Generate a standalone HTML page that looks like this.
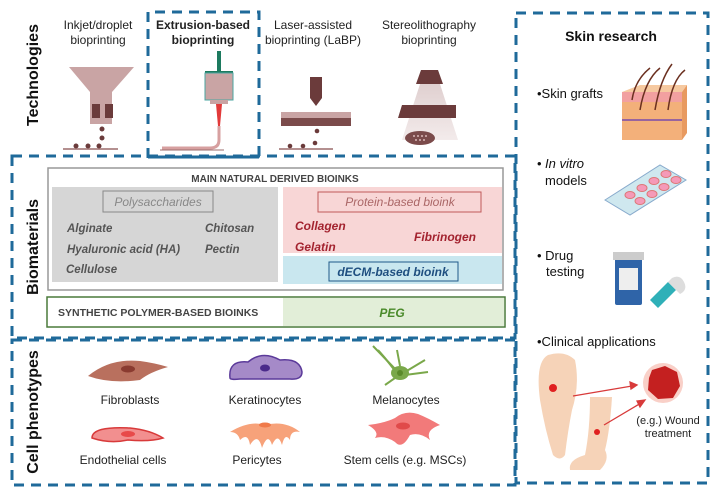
<!DOCTYPE html>
<html><head><meta charset="utf-8"><style>
body{margin:0;background:#fff;}
svg{display:block;font-family:"Liberation Sans",Arial,sans-serif;}
</style></head><body>
<svg width="717" height="493" viewBox="0 0 717 493" xmlns="http://www.w3.org/2000/svg">
<defs>
<linearGradient id="cone" x1="0" y1="0" x2="0" y2="1"><stop offset="0" stop-color="#d8c4c4"/><stop offset="1" stop-color="#f0e6e6"/></linearGradient>
</defs>
<!-- dashed boxes -->
<g fill="none" stroke="#1f6a9a" stroke-width="3" stroke-dasharray="10 7">
<path d="M148 158 V12 H259 V156"/>
<rect x="12" y="156" width="503" height="182"/>
<rect x="12" y="340" width="503" height="145"/>
<rect x="516" y="13" width="192" height="470"/>
</g>
<path d="M148 157 H259" stroke="#1f6a9a" stroke-width="3"/>
<!-- section titles -->
<g font-weight="bold" font-size="16" fill="#111">
<text transform="translate(38,75) rotate(-90)" text-anchor="middle">Technologies</text>
<text transform="translate(38,247) rotate(-90)" text-anchor="middle">Biomaterials</text>
<text transform="translate(38,412) rotate(-90)" text-anchor="middle">Cell phenotypes</text>
</g>
<!-- tech labels -->
<g font-size="12" fill="#222" text-anchor="middle">
<text x="98" y="29">Inkjet/droplet</text><text x="98" y="44">bioprinting</text>
<text x="203" y="29" font-weight="bold">Extrusion-based</text><text x="203" y="44" font-weight="bold">bioprinting</text>
<text x="313" y="29">Laser-assisted</text><text x="313" y="44">bioprinting (LaBP)</text>
<text x="429" y="29">Stereolithography</text><text x="429" y="44">bioprinting</text>
</g>
<!-- inkjet -->
<path d="M69 67 H134 L112 92 V124 H90 V92 Z" fill="#c9a4a4"/>
<rect x="92" y="104" width="8" height="14" fill="#6b3b3b"/><rect x="105" y="104" width="8" height="14" fill="#6b3b3b"/>
<g fill="#6b3b3b"><circle cx="102" cy="129" r="2.5"/><circle cx="102" cy="138" r="2.5"/><circle cx="99" cy="146" r="2.5"/><circle cx="76" cy="146" r="2.5"/><circle cx="88" cy="146" r="2.5"/></g>
<line x1="63" y1="149" x2="118" y2="149" stroke="#9b6b6b" stroke-width="1.5"/>
<!-- extrusion -->
<rect x="217" y="51" width="4" height="20" fill="#1d7a5f"/>
<path d="M205 72 H233" stroke="#1d7a5f" stroke-width="2"/>
<rect x="205" y="73" width="28" height="27" fill="#c9a4a4" stroke="#4aa6a0"/>
<rect x="210" y="100" width="18" height="4" fill="#c9a4a4"/>
<path d="M216 104 H222 L220 126 H218 Z" fill="#e23a3a"/>
<path d="M219 126 V140 Q219 148 210 148 H162" fill="none" stroke="#d7a0a0" stroke-width="3"/>
<line x1="160" y1="150" x2="224" y2="150" stroke="#9b6b6b" stroke-width="1"/>
<!-- laser -->
<path d="M310 77 H322 V98 L316 106 L310 98 Z" fill="#6b3b3b"/>
<rect x="281" y="112" width="70" height="6" fill="#c9a4a4"/><rect x="281" y="118" width="70" height="8" fill="#7b4b4b"/>
<g fill="#6b3b3b"><circle cx="317" cy="131" r="2.3"/><circle cx="315" cy="143" r="2.3"/><circle cx="290" cy="146" r="2.3"/><circle cx="303" cy="146" r="2.3"/></g>
<line x1="279" y1="149" x2="333" y2="149" stroke="#9b6b6b" stroke-width="1.5"/>
<!-- stereo -->
<path d="M420 84 H440 L458 140 H402 Z" fill="url(#cone)" opacity="0.8"/>
<path d="M421 70 H438 L443 84 H416 Z" fill="#6b3b3b"/>
<path d="M402 105 H456 V118 H398 Z" fill="#6b3b3b"/>
<ellipse cx="420" cy="138" rx="15" ry="7" fill="#7b4b4b"/>
<g fill="#d9b8b8"><circle cx="414" cy="136" r="1"/><circle cx="418" cy="136" r="1"/><circle cx="422" cy="136" r="1"/><circle cx="426" cy="136" r="1"/><circle cx="416" cy="140" r="1"/><circle cx="420" cy="140" r="1"/><circle cx="424" cy="140" r="1"/></g>
<!-- biomaterials -->
<rect x="48" y="168" width="455" height="122" fill="#fff" stroke="#999" stroke-width="1.5"/>
<text x="275" y="182" font-size="10" font-weight="bold" fill="#444" text-anchor="middle">MAIN NATURAL  DERIVED BIOINKS</text>
<rect x="52" y="187" width="226" height="95" fill="#d6d6d6"/>
<rect x="283" y="187" width="219" height="66" fill="#f8d6d6"/>
<rect x="283" y="256" width="219" height="28" fill="#c9e7ef"/>
<rect x="103" y="191" width="110" height="21" fill="none" stroke="#888"/>
<text x="158" y="206" font-size="12" font-style="italic" fill="#888" text-anchor="middle">Polysaccharides</text>
<g font-size="11.5" font-style="italic" font-weight="bold" fill="#555">
<text x="67" y="232">Alginate</text><text x="205" y="232">Chitosan</text>
<text x="67" y="253">Hyaluronic acid (HA)</text><text x="205" y="253">Pectin</text>
<text x="66" y="273">Cellulose</text>
</g>
<rect x="318" y="192" width="163" height="20" fill="none" stroke="#c05a5a"/>
<text x="400" y="206" font-size="12" font-style="italic" fill="#a66" text-anchor="middle">Protein-based bioink</text>
<g font-size="12" font-style="italic" font-weight="bold" fill="#a3232f">
<text x="295" y="230">Collagen</text><text x="295" y="251">Gelatin</text><text x="414" y="241">Fibrinogen</text>
</g>
<rect x="329" y="262" width="129" height="19" fill="none" stroke="#1f5a8a"/>
<text x="393" y="276" font-size="12" font-style="italic" font-weight="bold" fill="#1f4f80" text-anchor="middle">dECM-based bioink</text>
<rect x="47" y="297" width="458" height="30" fill="#fff" stroke="#4a7a3a" stroke-width="1.5"/>
<rect x="283" y="298" width="221" height="28" fill="#e2eed8"/>
<text x="58" y="316" font-size="10.5" font-weight="bold" fill="#444">SYNTHETIC POLYMER-BASED BIOINKS</text>
<text x="392" y="317" font-size="12" font-style="italic" font-weight="bold" fill="#4a8a2a" text-anchor="middle">PEG</text>
<!-- cells -->
<path d="M88 376 Q110 358 140 361 Q155 363 168 367 Q150 372 140 380 Q110 384 88 376 Z" fill="#b9705e"/>
<ellipse cx="128" cy="369" rx="7" ry="3.5" fill="#8a3b30"/>
<path d="M230 378 Q228 360 248 362 Q262 350 280 360 Q300 358 302 372 Q302 380 290 379 H240 Q230 380 230 378 Z" fill="#a58ac8" stroke="#5b3a9a" stroke-width="1.5"/>
<ellipse cx="265" cy="368" rx="5" ry="3.5" fill="#4a2a8a"/>
<g stroke="#7aa84a" stroke-width="2" fill="none"><path d="M398 372 L373 346"/><path d="M396 372 L385 358 L378 350"/><path d="M400 366 L397 350"/><path d="M405 372 L425 360"/><path d="M405 375 L428 372"/><path d="M395 378 L385 385"/></g>
<ellipse cx="400" cy="373" rx="9" ry="7" fill="#7aa84a"/><circle cx="400" cy="373" r="3" fill="#5a8a2a"/>
<path d="M92 438 Q92 426 130 428 Q150 430 163 438 Q150 442 128 440 Q110 444 92 438 Z" fill="#f28f8f" stroke="#d83a3a" stroke-width="1.5"/>
<ellipse cx="128" cy="434" rx="7" ry="3" fill="#e84a4a"/>
<path d="M230 432 Q250 420 265 425 Q285 420 300 432 Q290 430 290 440 Q285 432 282 445 Q278 432 272 445 Q268 432 262 448 Q258 432 250 445 Q248 432 240 440 Q238 432 230 432 Z" fill="#f7a27a"/>
<ellipse cx="265" cy="425" rx="6" ry="2.5" fill="#f07a4a"/>
<path d="M368 425 Q385 423 395 418 Q405 410 418 414 Q428 418 440 425 Q425 430 430 440 Q420 432 410 435 Q402 450 395 442 Q385 435 375 438 Q380 432 368 425 Z" fill="#f27a7a"/>
<ellipse cx="403" cy="426" rx="7" ry="3.5" fill="#e04a4a"/>
<g font-size="12" fill="#222" text-anchor="middle">
<text x="130" y="404">Fibroblasts</text><text x="265" y="404">Keratinocytes</text><text x="406" y="404">Melanocytes</text>
<text x="123" y="464">Endothelial cells</text><text x="257" y="464">Pericytes</text><text x="405" y="464">Stem cells (e.g. MSCs)</text>
</g>
<!-- skin research -->
<text x="611" y="41" font-size="14" font-weight="bold" fill="#111" text-anchor="middle">Skin research</text>
<g font-size="13" fill="#111">
<text x="537" y="98">•Skin grafts</text>
<text x="545" y="168" font-style="italic">In vitro</text><text x="537" y="168">•</text><text x="545" y="185">models</text>
<text x="537" y="260">• Drug</text><text x="546" y="276">testing</text>
<text x="537" y="346">•Clinical applications</text>
</g>
<!-- skin graft block -->
<path d="M622 92 L640 85 H687 L682 92 Z" fill="#f6c9a0"/>
<rect x="622" y="92" width="60" height="48" fill="#f3b07a"/>
<path d="M682 92 L687 85 V133 L682 140 Z" fill="#e89a60"/>
<rect x="622" y="92" width="60" height="10" fill="#f2a0a0"/>
<path d="M622 120 H682" stroke="#7a4aaa" stroke-width="1.5"/>
<g stroke="#6b3020" stroke-width="1.5" fill="none"><path d="M640 110 Q645 80 660 68"/><path d="M655 110 Q660 80 672 64"/><path d="M668 110 Q672 80 685 70"/><path d="M632 100 Q635 80 650 68"/></g>
<!-- well plate -->
<path d="M605 200 L660 165 L686 180 L630 215 Z" fill="#cfe8ef" stroke="#8ac" />
<g fill="#f59ab8" stroke="#d77"><ellipse cx="630" cy="195" rx="5" ry="3.5"/><ellipse cx="642" cy="188" rx="5" ry="3.5"/><ellipse cx="654" cy="181" rx="5" ry="3.5"/><ellipse cx="666" cy="174" rx="5" ry="3.5"/><ellipse cx="640" cy="201" rx="5" ry="3.5"/><ellipse cx="652" cy="194" rx="5" ry="3.5"/><ellipse cx="664" cy="187" rx="5" ry="3.5"/><ellipse cx="676" cy="180" rx="5" ry="3.5"/></g>
<!-- drug -->
<rect x="615" y="255" width="27" height="50" rx="2" fill="#2f64a8"/>
<rect x="613" y="252" width="31" height="8" fill="#ccc"/>
<rect x="619" y="268" width="19" height="22" fill="#eee"/>
<path d="M650 300 L668 282 L676 290 L658 308 Z" fill="#2fb0b8"/>
<path d="M668 282 L672 278 Q680 274 684 282 Q688 290 680 294 L676 290 Z" fill="#ddd"/>
<!-- foot & leg -->
<path d="M548 355 Q535 362 540 400 Q545 430 553 455 Q560 462 565 455 Q568 430 572 410 Q580 385 575 360 Q565 350 548 355 Z" fill="#f6d3b8"/>
<path d="M590 397 H612 Q610 430 605 450 Q610 460 600 470 H570 Q568 460 585 455 Q590 430 590 397 Z" fill="#f6d3b8"/>
<circle cx="553" cy="388" r="4" fill="#e02020"/>
<circle cx="597" cy="432" r="3" fill="#e02020"/>
<g stroke="#d83a3a" stroke-width="1.3" fill="#d83a3a"><line x1="573" y1="396" x2="632" y2="386"/><path d="M637 385 L630 382 L631 389 Z"/><line x1="604" y1="425" x2="641" y2="403"/><path d="M645 400 L637 401 L640 407 Z"/></g>
<circle cx="663" cy="383" r="20" fill="#f9d0c8"/>
<path d="M652 370 L665 366 L677 372 L680 386 L673 398 L658 399 L648 390 L649 378 Z" fill="#c42020"/>
<g font-size="11" fill="#222" text-anchor="middle"><text x="668" y="424">(e.g.) Wound</text><text x="668" y="437">treatment</text></g>
</svg>
</body></html>
